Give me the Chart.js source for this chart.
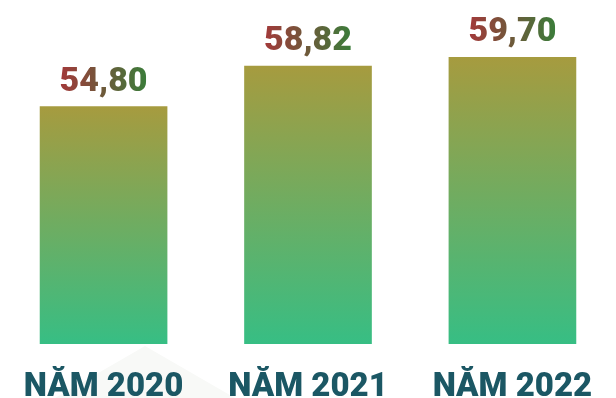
<!DOCTYPE html>
<html>
<head>
<meta charset="utf-8">
<script src="https://cdn.jsdelivr.net/npm/chart.js@4"></script>
<style>
  html, body { margin: 0; padding: 0; background: #ffffff; }
  #wrap { width: 616px; height: 398px; }
</style>
</head>
<body>
<div id="wrap"><canvas id="chart" width="616" height="398"></canvas></div>
<script>
// dữ liệu
const years = ["NĂM 2020", "NĂM 2021", "NĂM 2022"];
const values = [54.80, 58.82, 59.70];

const Y_MIN = 31.2;
const Y_MAX = 65.4;

// nền: tam giác mờ phía sau
const bgShape = {
  id: "bgShape",
  beforeDraw(chart) {
    const ctx = chart.ctx;
    ctx.save();
    ctx.fillStyle = "#f8f9f7";
    ctx.beginPath();
    ctx.moveTo(55, 398);
    ctx.lineTo(145, 346);
    ctx.lineTo(235, 398);
    ctx.closePath();
    ctx.fill();
    ctx.restore();
  }
};

// nhãn giá trị trên cột
const valueLabels = {
  id: "valueLabels",
  afterDatasetsDraw(chart) {
    const ctx = chart.ctx;
    const meta = chart.getDatasetMeta(0);
    ctx.save();
    ctx.font = "900 34px Roboto";
    ctx.textAlign = "center";
    ctx.textBaseline = "alphabetic";
    meta.data.forEach((bar, i) => {
      const text = values[i].toFixed(2).replace(".", ",");
      const w = ctx.measureText(text).width;
      const g = ctx.createLinearGradient(bar.x - w / 2, 0, bar.x + w / 2, 0);
      g.addColorStop(0, "#a3393a");
      g.addColorStop(0.5, "#6d5a3a");
      g.addColorStop(1, "#3a7d3a");
      ctx.fillStyle = g;
      ctx.fillText(text, bar.x, bar.y - 16);
    });
    ctx.restore();
  }
};

function barGradient(context) {
  const chart = context.chart;
  if (!chart.chartArea) return "#6aae60";
  const y = chart.scales.y;
  const top = y.getPixelForValue(values[context.dataIndex]);
  const bottom = y.getPixelForValue(Y_MIN);
  const g = chart.ctx.createLinearGradient(0, top, 0, bottom);
  g.addColorStop(0, "#a69b3f");
  g.addColorStop(1, "#37be84");
  return g;
}

new Chart(document.getElementById("chart"), {
  type: "bar",
  data: {
    labels: years,
    datasets: [{
      data: values,
      backgroundColor: barGradient,
      borderWidth: 0,
      barThickness: 127
    }]
  },
  options: {
    responsive: false,
    animation: false,
    layout: { padding: 0 },
    plugins: {
      legend: { display: false },
      tooltip: { enabled: false }
    },
    scales: {
      x: {
        grid: { display: false, drawTicks: false },
        border: { display: false },
        ticks: {
          color: "#1b5764",
          font: { family: "Roboto", size: 33, weight: "900" },
          padding: 24,
          maxRotation: 0,
          autoSkip: false
        },
        afterFit(scale) { scale.height = 54; }
      },
      y: {
        display: false,
        min: Y_MIN,
        max: Y_MAX
      }
    }
  },
  plugins: [bgShape, valueLabels]
});
</script>
</body>
</html>
